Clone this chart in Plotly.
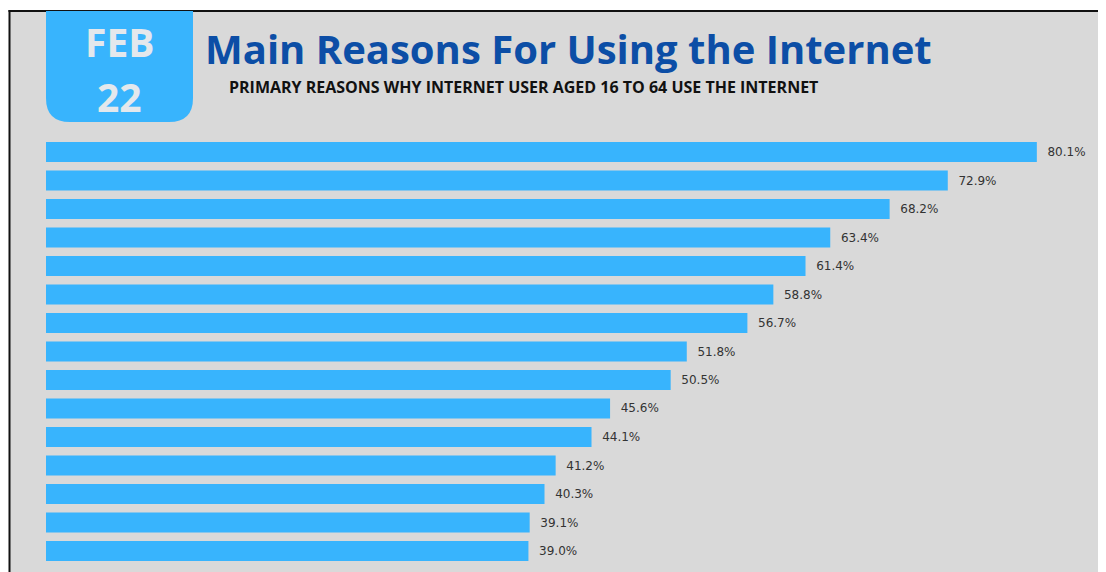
import plotly.graph_objects as go

values = [80.1, 72.9, 68.2, 63.4, 61.4, 58.8, 56.7, 51.8, 50.5, 45.6, 44.1, 41.2, 40.3, 39.1, 39.0]
positions = list(range(len(values)))
title_text = "Main Reasons For Using the Internet"
subtitle_text = "PRIMARY REASONS WHY INTERNET USER AGED 16 TO 64 USE THE INTERNET"
badge_month = "FEB"
badge_year = "22"

# page body has an 8px margin; figure is placed at (8, 8)
OFF = 8
W, H = 1106 - OFF, 572 - OFF
def px(x):
    return (x - OFF) / W
def py(y):
    return 1 - (y - OFF) / H

BAR = "#38b4fd"
BG = "#d9d9d9"

fig = go.Figure()
fig.add_trace(go.Bar(
    x=values, y=positions, orientation="h",
    marker=dict(color=BAR, line=dict(width=0)),
    width=0.7,
    text=values,
    texttemplate="\u00a0\u00a0%{x:.1f}%",
    textposition="outside",
    textfont=dict(family="DejaVu Sans", size=12, color="#333333"),
    cliponaxis=False,
    hoverinfo="skip",
))

x0, x1, y0, y1, r = 46, 193, 11, 122, 24
rx, ry = r / W, r / H
path = (f"M {px(x0)},{py(y0)} L {px(x1)},{py(y0)} L {px(x1)},{py(y1)+ry} "
        f"Q {px(x1)},{py(y1)} {px(x1)-rx},{py(y1)} L {px(x0)+rx},{py(y1)} "
        f"Q {px(x0)},{py(y1)} {px(x0)},{py(y1)+ry} Z")

shapes = [
    dict(type="rect", xref="paper", yref="paper", x0=px(9), x1=1.01, y0=-0.01, y1=py(11),
         fillcolor=BG, line=dict(width=0), layer="below"),
    dict(type="line", xref="paper", yref="paper", x0=px(9.5), x1=px(9.5), y0=-0.01, y1=py(10),
         line=dict(color="#111111", width=2), layer="above"),
    dict(type="line", xref="paper", yref="paper", x0=px(8.5), x1=1.01, y0=py(11), y1=py(11),
         line=dict(color="#111111", width=2), layer="above"),
    dict(type="path", xref="paper", yref="paper", path=path,
         fillcolor=BAR, line=dict(width=0), layer="above"),
]

annotations = [
    dict(text=f"<b>{badge_month}</b>", xref="paper", yref="paper", x=px(119), y=py(41),
         showarrow=False, xanchor="center", yanchor="middle",
         font=dict(family="Open Sans", size=39, color="#e4e8ec")),
    dict(text=f"<b>{badge_year}</b>", xref="paper", yref="paper", x=px(119), y=py(96),
         showarrow=False, xanchor="center", yanchor="middle",
         font=dict(family="Open Sans", size=39, color="#e4e8ec")),
    dict(text=f"<b>{title_text}</b>", xref="paper", yref="paper", x=px(203), y=py(48.5),
         showarrow=False, xanchor="left", yanchor="middle",
         font=dict(family="Open Sans", size=40, color="#0c4ea6")),
    dict(text=f"<b>{subtitle_text}</b>", xref="paper", yref="paper", x=px(227), y=py(87),
         showarrow=False, xanchor="left", yanchor="middle",
         font=dict(family="Open Sans", size=16, color="#111111")),
]

fig.update_layout(
    width=W, height=H,
    margin=dict(l=0, r=0, t=0, b=0),
    paper_bgcolor="white",
    plot_bgcolor="rgba(0,0,0,0)",
    showlegend=False,
    shapes=shapes,
    annotations=annotations,
    xaxis=dict(domain=[px(46), 1], range=[0, (1106 - 46) / 12.37], visible=False, fixedrange=True),
    yaxis=dict(domain=[py(137.75 + 427.5), py(137.75)], range=[14.5, -0.5],
               visible=False, fixedrange=True),
    bargap=0.3,
)

fig.write_html("out.html")
